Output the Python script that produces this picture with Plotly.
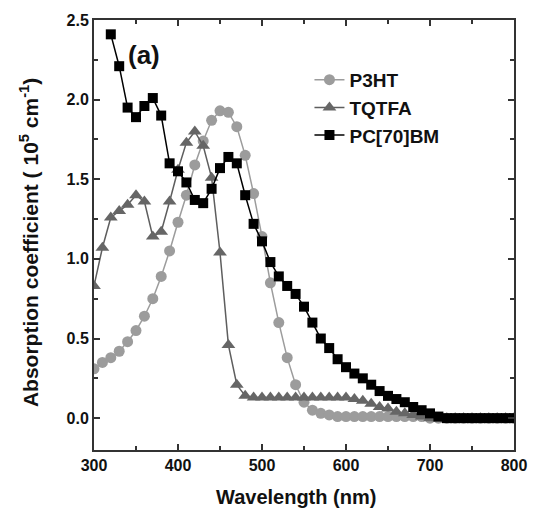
import plotly.graph_objects as go

# ---------------- data ----------------
wl_p3ht = list(range(300, 801, 10))
p3ht = [0.31, 0.35, 0.38, 0.42, 0.48, 0.55, 0.64, 0.75, 0.89, 1.05,
        1.23, 1.40, 1.59, 1.74, 1.87, 1.93, 1.92, 1.83, 1.65, 1.41,
        1.14, 0.85, 0.60, 0.38, 0.21, 0.10, 0.05, 0.03, 0.02, 0.01,
        0.01, 0.01, 0.01, 0.01, 0.01, 0.01, 0.01, 0.01, 0.01, 0.01,
        0.0, 0.0, 0.0, 0.0, 0.0, 0.0, 0.0, 0.0, 0.0, 0.0, 0.0]

wl_tqtfa = list(range(300, 801, 10))
tqtfa = [0.83, 1.07, 1.26, 1.30, 1.34, 1.40, 1.36, 1.14, 1.17, 1.36,
         1.56, 1.73, 1.80, 1.71, 1.51, 1.04, 0.46, 0.21, 0.14, 0.13,
         0.13, 0.13, 0.13, 0.13, 0.13, 0.13, 0.13, 0.13, 0.13, 0.13,
         0.13, 0.12, 0.11, 0.09, 0.07, 0.06, 0.04, 0.03, 0.02, 0.01,
         0.0, 0.0, 0.0, 0.0, 0.0, 0.0, 0.0, 0.0, 0.0, 0.0, 0.0]

wl_pcbm = list(range(320, 801, 10))
pcbm = [2.41, 2.21, 1.95, 1.89, 1.96, 2.01, 1.90, 1.60, 1.55, 1.48,
        1.37, 1.35, 1.44, 1.57, 1.64, 1.60, 1.40, 1.22, 1.11, 0.98,
        0.89, 0.83, 0.78, 0.70, 0.60, 0.50, 0.44, 0.37, 0.32, 0.28,
        0.25, 0.21, 0.17, 0.14, 0.12, 0.10, 0.07, 0.05, 0.03, 0.01,
        0.0, 0.0, 0.0, 0.0, 0.0, 0.0, 0.0, 0.0, 0.0]

x_ticks = [300, 400, 500, 600, 700, 800]
y_ticks = [0.0, 0.5, 1.0, 1.5, 2.0, 2.5]
y_ticklabels = ["0.0", "0.5", "1.0", "1.5", "2.0", "2.5"]

FONT = "Liberation Sans, Arial, sans-serif"
AX = "#333333"

fig = go.Figure()
fig.add_trace(go.Scatter(
    x=wl_p3ht, y=p3ht, name="P3HT", mode="lines+markers",
    line=dict(color="#9c9c9c", width=1.5),
    marker=dict(symbol="circle", size=11, color="#9c9c9c",
                line=dict(width=0))))
fig.add_trace(go.Scatter(
    x=wl_tqtfa, y=tqtfa, name="TQTFA", mode="lines+markers",
    line=dict(color="#5e5e5e", width=1.5),
    marker=dict(symbol="triangle-up", size=12, color="#666666",
                line=dict(width=0))))
fig.add_trace(go.Scatter(
    x=wl_pcbm, y=pcbm, name="PC[70]BM", mode="lines+markers",
    line=dict(color="#000000", width=1.5),
    marker=dict(symbol="square", size=10, color="#000000",
                line=dict(width=0))))

axis_common = dict(
    showline=True, linecolor=AX, linewidth=2, mirror="allticks",
    ticks="inside", ticklen=6, tickwidth=1.5, tickcolor=AX,
    showgrid=False, zeroline=False,
    tickfont=dict(family=FONT, size=16, color="#111111", weight="bold"),
)

fig.update_xaxes(range=[300, 800], tickvals=x_ticks,
                 ticktext=[str(v) for v in x_ticks],
                 minor=dict(dtick=50, tick0=300, ticks="inside", ticklen=4,
                            tickcolor=AX, tickwidth=1.5),
                 **axis_common)
fig.update_yaxes(range=[-0.2, 2.5], tickvals=y_ticks, ticktext=y_ticklabels,
                 minor=dict(dtick=0.25, tick0=0, ticks="inside", ticklen=4,
                            tickcolor=AX, tickwidth=1.5),
                 **axis_common)

fig.add_annotation(text="Wavelength (nm)", xref="paper", yref="paper",
                   x=0.48, y=-0.109, xanchor="center", yanchor="middle",
                   showarrow=False,
                   font=dict(family=FONT, size=20, color="#111111", weight="bold"))
fig.add_annotation(text="Absorption coefficient ( 10<sup>5</sup> cm<sup>-1</sup>)",
                   xref="paper", yref="paper", x=-0.153, y=0.483,
                   xanchor="center", yanchor="middle", textangle=-90,
                   showarrow=False,
                   font=dict(family=FONT, size=21, color="#111111", weight="bold"))
fig.add_annotation(text="(a)", xref="paper", yref="paper",
                   x=0.12, y=0.919, xanchor="center", yanchor="middle",
                   showarrow=False,
                   font=dict(family=FONT, size=26, color="#111111", weight="bold"))

fig.update_layout(
    width=539, height=508,
    margin=dict(l=94, r=14, t=18, b=58),
    paper_bgcolor="white", plot_bgcolor="white",
    showlegend=True,
    legend=dict(x=0.513, y=0.905, xanchor="left", yanchor="top",
                bgcolor="rgba(0,0,0,0)", borderwidth=0,
                font=dict(family=FONT, size=19, color="#111111", weight="bold"),
                itemwidth=30),
)

fig.write_html("out.html")
